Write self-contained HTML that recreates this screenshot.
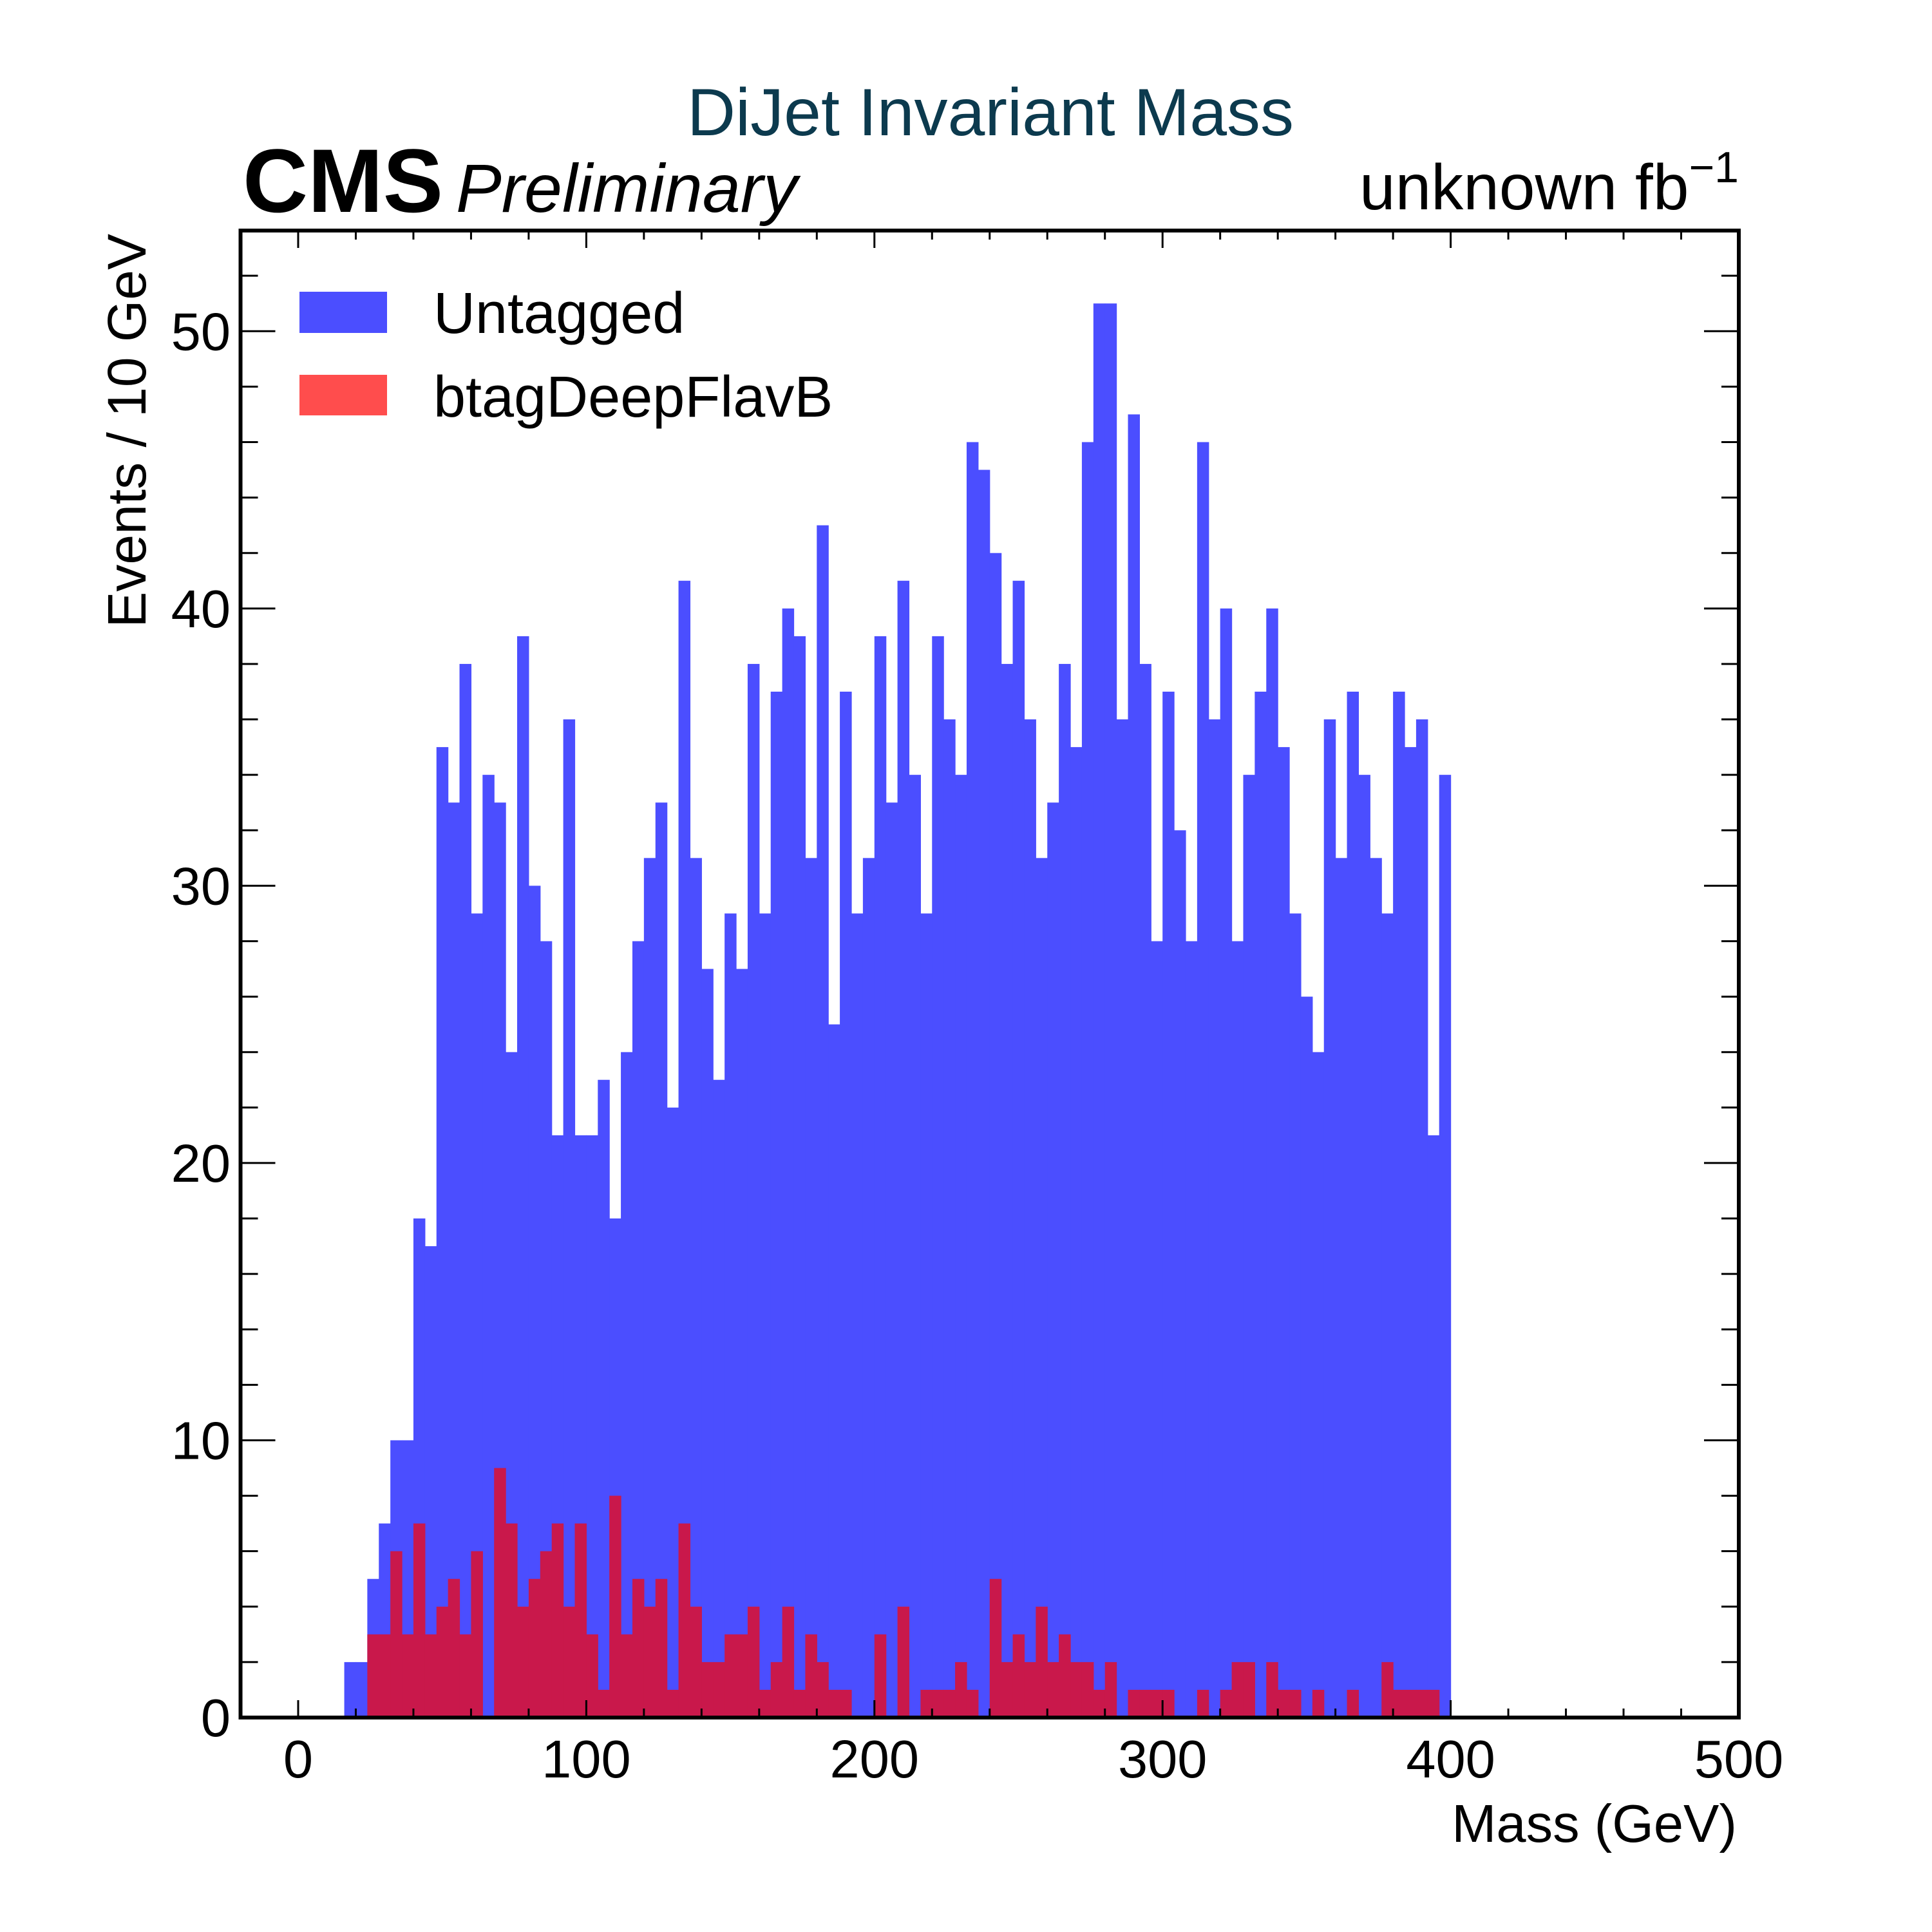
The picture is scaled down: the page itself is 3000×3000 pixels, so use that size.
<!DOCTYPE html>
<html><head><meta charset="utf-8"><style>
html,body{margin:0;padding:0;background:#fff;}
svg{display:block;font-family:"Liberation Sans",sans-serif;}
</style></head><body>
<svg id="chart" width="3000" height="3000" viewBox="0 0 3000 3000" xmlns="http://www.w3.org/2000/svg">
<rect width="3000" height="3000" fill="#fff"/>
<g id="bars"></g>
<g id="axes"></g>
<text x="1538" y="210" text-anchor="middle" font-size="104" fill="#0c3a4e">DiJet Invariant Mass</text>
<text x="377" y="329" font-size="140" font-weight="bold" fill="#000">CMS</text>
<text x="708" y="329" font-size="106" font-style="italic" fill="#000">Preliminary</text>
<text x="2700" y="325" text-anchor="end" font-size="100" fill="#000">unknown fb<tspan dy="-42" font-size="68">−1</tspan></text>
<text x="2697" y="2860" text-anchor="end" font-size="83" fill="#000">Mass (GeV)</text>
<text transform="translate(226,363) rotate(-90)" text-anchor="end" font-size="84" fill="#000">Events / 10 GeV</text>
<rect x="465" y="453" width="136" height="64" fill="#4b4eff"/>
<text x="673" y="517" font-size="90" fill="#000">Untagged</text>
<rect x="465" y="582" width="136" height="63" fill="#ff4d4d"/>
<text x="673" y="647" font-size="90" fill="#000">btagDeepFlavB</text>
</svg>
<script>
const binEdges0 = 0, binWidth = 4;
const untagged = [0,0,0,0,2,2,5,7,10,10,18,17,35,33,38,29,34,33,24,39,30,28,21,36,21,21,23,18,24,28,31,33,22,41,31,27,23,29,27,38,29,37,40,39,31,43,25,37,29,31,39,33,41,34,29,39,36,34,46,45,42,38,41,36,31,33,38,35,46,51,51,36,47,38,28,37,32,28,46,36,40,28,34,37,40,35,29,26,24,36,31,37,34,31,29,37,35,36,21,34];
const btag = [0,0,0,0,0,0,3,3,6,3,7,3,4,5,3,6,0,9,7,4,5,6,7,4,7,3,1,8,3,5,4,5,1,7,4,2,2,3,3,4,1,2,4,1,3,2,1,1,0,0,3,0,4,0,1,1,1,2,1,0,5,2,3,2,4,2,3,2,2,1,2,0,1,1,1,1,0,0,1,0,1,2,2,0,2,1,1,0,1,0,0,1,0,0,2,1,1,1,1,0];
const xTicks = [0,100,200,300,400,500];
const yTicks = [0,10,20,30,40,50];
const NS="http://www.w3.org/2000/svg";
const L=373.5,R=2700,T=358,B=2667,XMIN=-20,XMAX=500,YMAX=53.63;
const sx=v=>L+(v-XMIN)/(XMAX-XMIN)*(R-L);
const sy=v=>B-v/YMAX*(B-T);
const bars=document.getElementById('bars'), axes=document.getElementById('axes');
function mk(tag,attrs,parent){const e=document.createElementNS(NS,tag);for(const k in attrs)e.setAttribute(k,attrs[k]);parent.appendChild(e);return e;}
untagged.forEach((v,i)=>{if(!v)return;const x0=sx(binEdges0+i*binWidth),x1=sx(binEdges0+(i+1)*binWidth);
 const r=mk('rect',{x:x0,y:sy(v),width:x1-x0+0.6,height:B-sy(v),fill:'#4b4eff'},bars);
 
 });
btag.forEach((v,i)=>{if(!v)return;const x0=sx(binEdges0+i*binWidth),x1=sx(binEdges0+(i+1)*binWidth);
 const r=mk('rect',{x:x0,y:sy(v),width:x1-x0+0.6,height:B-sy(v),fill:'#c9184b'},bars);
 
 });
for(let g=-20;g<=500;g+=20){const maj=g%100===0;const len=maj?27:14;const x=sx(g);
 mk('line',{x1:x,x2:x,y1:B,y2:B-len,stroke:'#000','stroke-width':3},axes);
 mk('line',{x1:x,x2:x,y1:T,y2:T+len,stroke:'#000','stroke-width':3},axes);}
for(let v=0;v<=YMAX;v+=2){const maj=v%10===0;const len=maj?54:27;const y=sy(v);
 mk('line',{x1:L,x2:L+len,y1:y,y2:y,stroke:'#000','stroke-width':3},axes);
 mk('line',{x1:R,x2:R-len,y1:y,y2:y,stroke:'#000','stroke-width':3},axes);}
xTicks.forEach(t=>{const e=mk('text',{x:sx(t),y:2760,'text-anchor':'middle','font-size':83},axes);e.textContent=t;
 
 });
yTicks.forEach(t=>{const e=mk('text',{x:358,y:sy(t)+29,'text-anchor':'end','font-size':83},axes);e.textContent=t;
 
 });
const fr=mk('rect',{x:L,y:T,width:R-L,height:B-T,fill:'none',stroke:'#000','stroke-width':6},axes);


</script>
</body></html>
